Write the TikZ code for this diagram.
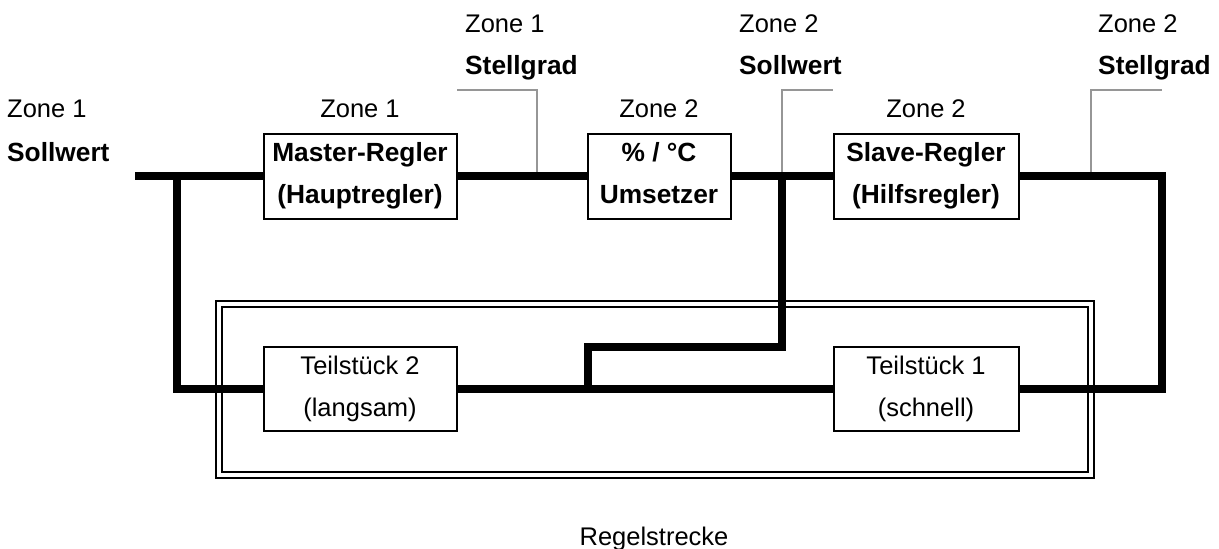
\documentclass[tikz,border=0pt]{standalone}
\usepackage{fontspec}
\setmainfont{Liberation Sans}
\definecolor{callgray}{RGB}{150,150,150}
\newcommand\lab{\fontsize{25.5}{42}\selectfont}
\newcommand\blab{\fontsize{26.3}{42}\selectfont\bfseries}
\newcommand\ms{\vrule width 0pt height 18pt depth 6pt}
\begin{document}
\begin{tikzpicture}[x=1pt,y=-1pt,line join=miter,
  every node/.style={inner sep=0pt,font=\lab},
  blk/.style={draw,line width=2pt,align=center},
  bblk/.style={blk,font=\blab},
  sig/.style={line width=8pt},
  call/.style={draw=callgray,line width=1.5pt},
  lbl/.style={anchor=base west},
  blbl/.style={anchor=base west,font=\blab},
  clbl/.style={anchor=base}]
\useasboundingbox (0,0) rectangle (1219,549);

% plant frame
\node[draw,double,double distance=4pt,line width=2pt,minimum width=872pt,minimum height=171pt] (plant) at (655,389.5) {};
\node[clbl] (rs) at (654,545) {Regelstrecke};

% blocks
\node[bblk,minimum width=193pt,minimum height=85pt] (master) at (360,176) {\ms Master-Regler\\\ms (Hauptregler)};
\node[bblk,minimum width=143pt,minimum height=85pt] (conv) at (659,176) {\ms \% / °C\\\ms Umsetzer};
\node[bblk,minimum width=185pt,minimum height=85pt] (slave) at (926,176) {\ms Slave-Regler\\\ms (Hilfsregler)};
\node[blk,minimum width=193pt,minimum height=84pt] (t2) at (360,389) {\ms Teilstück 2\\\ms (langsam)};
\node[blk,minimum width=185pt,minimum height=84pt] (t1) at (926,389) {\ms Teilstück 1\\\ms (schnell)};

% coordinates
\coordinate (in) at (135,176);
\coordinate (jl) at (177,176);
\coordinate (bl) at (177,389);
\coordinate (tr) at (1162,176);
\coordinate (br) at (1162,389);
\coordinate (jm) at (782,176);
\coordinate (m1) at (782,347);
\coordinate (m2) at (588,347);
\coordinate (m3) at (588,389);

% callout leaders
\coordinate (s1b) at (537,176); \coordinate (s1t) at (537,90); \coordinate (s1e) at (457,90);
\coordinate (s2t) at (782,90); \coordinate (s2e) at (833,90);
\coordinate (s3b) at (1091,176); \coordinate (s3t) at (1091,90); \coordinate (s3e) at (1162,90);
\draw[call] (s1b) -- (s1t) -- (s1e);
\draw[call] (jm) -- (s2t) -- (s2e);
\draw[call] (s3b) -- (s3t) -- (s3e);

% signal lines
\draw[sig] (in) -- (master.west);
\draw[sig] (master.east) -- (conv.west);
\draw[sig] (conv.east) -- (slave.west);
\draw[sig] (slave.east) -- (tr) -- (br) -- (t1.east);
\draw[sig] (t1.west) -- (t2.east);
\draw[sig] (jl) -- (bl) -- (t2.west);
\draw[sig] (jm) -- (m1) -- (m2) -- (m3);

% labels
\node[lbl] (z1in) at (7,117) {Zone 1};
\node[blbl] (swin) at (7,161) {Sollwert};
\node[clbl] (z1m) at (360,117) {Zone 1};
\node[clbl] (z2c) at (659,117) {Zone 2};
\node[clbl] (z2s) at (926,117) {Zone 2};
\node[lbl] (z1y) at (465,32) {Zone 1};
\node[blbl] (sg1) at (465,74) {Stellgrad};
\node[lbl] (z2w) at (739,32) {Zone 2};
\node[blbl] (sw2) at (739,74) {Sollwert};
\node[lbl] (z2y) at (1098,32) {Zone 2};
\node[blbl] (sg2) at (1098,74) {Stellgrad};
\end{tikzpicture}
\end{document}
